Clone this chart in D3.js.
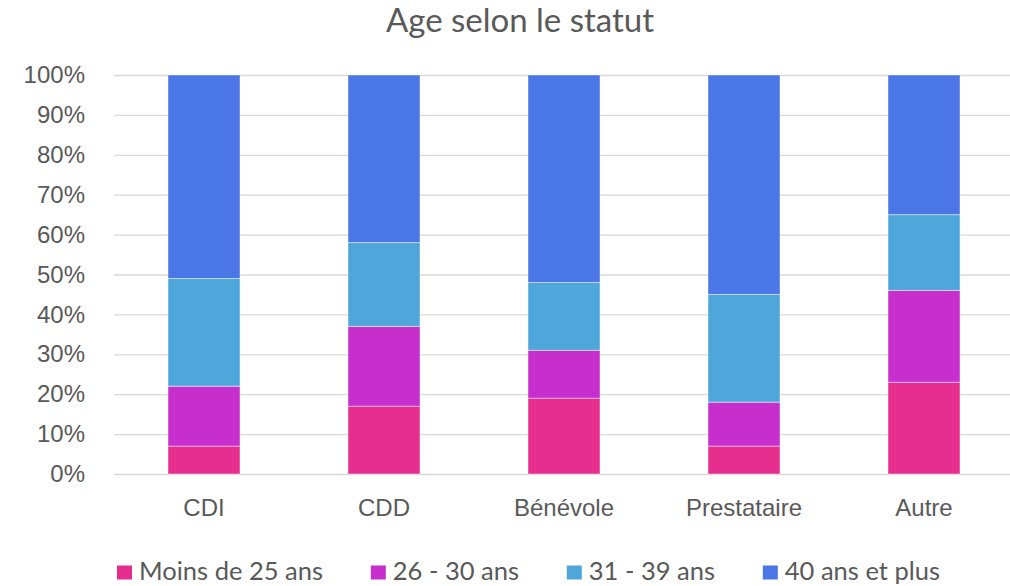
<!DOCTYPE html>
<html>
<head>
    <meta charset="utf-8">
    <style>
        body {
            margin: 0;
            background: #fff;
        }

        svg {
            display: block;
            font-family: Lato, 'Open Sans', sans-serif;
        }

        .title {
            font-size: 33px;
            fill: #595959;
        }

        .y .tick line {
            stroke: #d9d9d9;
            stroke-width: 1.3;
        }

        .y .tick text,
        .x .tick text {
            font-size: 24px;
            fill: #595959;
        }

        .domain {
            display: none;
        }

        .legend text {
            font-size: 25.5px;
            fill: #595959;
        }
    </style>
</head>
<body>
    <svg width="1010" height="586"></svg>

<script src="https://d3js.org/d3.v7.min.js"></script>
<script>
    // data (percentages)
    let categories = ["CDI", "CDD", "Bénévole", "Prestataire", "Autre"];
    let series = ["Moins de 25 ans", "26 - 30 ans", "31 - 39 ans", "40 ans et plus"];
    let moins25 = [7, 17, 19, 7, 23];
    let age26_30 = [15, 20, 12, 11, 23];
    let age31_39 = [27, 21, 17, 27, 19];
    let age40plus = [51, 42, 52, 55, 35];
    let yTicks = [0, 10, 20, 30, 40, 50, 60, 70, 80, 90, 100];
    let colors = ["#e52e8e", "#c62fcb", "#4fa6db", "#4a76e6"];

    let width = 1010;
    let height = 586;
    let margin = { top: 75, right: -4, bottom: 112, left: 114 };

    let svg = d3.select("svg");

    // table for d3.stack
    let table = categories.map(function (c, i) {
        let row = { cat: c };
        row[series[0]] = moins25[i];
        row[series[1]] = age26_30[i];
        row[series[2]] = age31_39[i];
        row[series[3]] = age40plus[i];
        return row;
    });
    let stacked = d3.stack().keys(series)(table);

    let xScale = d3.scaleBand()
        .domain(categories)
        .range([margin.left, width - margin.right])
        .paddingInner(0.6)
        .paddingOuter(0.3);

    let yScale = d3.scaleLinear()
        .domain([0, 100])
        .range([height - margin.bottom, margin.top]);

    let colorScale = d3.scaleOrdinal().domain(series).range(colors);

    svg.append("text")
        .attr("class", "title")
        .attr("x", 520)
        .attr("y", 32)
        .attr("text-anchor", "middle")
        .text("Age selon le statut");

    // y axis with gridlines
    svg.append("g")
        .attr("class", "y axis")
        .attr("transform", `translate(${margin.left},0)`)
        .call(d3.axisLeft(yScale)
            .tickValues(yTicks)
            .tickSize(-(width - margin.left - margin.right))
            .tickPadding(29)
            .tickFormat(function (d) { return d + "%"; }));

    // bars
    svg.append("g")
        .selectAll("g")
        .data(stacked)
        .join("g")
        .attr("fill", function (d) { return colorScale(d.key); })
        .selectAll("rect")
        .data(function (d) { return d; })
        .join("rect")
        .attr("x", function (d) { return xScale(d.data.cat); })
        .attr("y", function (d) { return yScale(d[1]); })
        .attr("width", xScale.bandwidth())
        .attr("height", function (d) { return yScale(d[0]) - yScale(d[1]); })
        .attr("stroke", "rgba(255,255,255,0.45)")
        .attr("stroke-width", 1);

    // x axis labels
    svg.append("g")
        .attr("class", "x axis")
        .attr("transform", `translate(0,${height - margin.bottom})`)
        .call(d3.axisBottom(xScale).tickSize(0).tickPadding(25));

    // legend, spread between the reference's left and right edges
    let legend = svg.append("g").attr("class", "legend");
    let items = legend.selectAll("g")
        .data(series)
        .join("g");
    items.append("rect")
        .attr("width", 15)
        .attr("height", 14)
        .attr("y", 565.5)
        .attr("fill", function (d) { return colorScale(d); });
    items.append("text")
        .attr("x", 22)
        .attr("y", 580)
        .text(function (d) { return d; });

    let widths = [];
    items.each(function () {
        widths.push(22 + this.querySelector("text").getComputedTextLength());
    });
    let legendLeft = 117, legendRight = 940;
    let gap = (legendRight - legendLeft - d3.sum(widths)) / (widths.length - 1);
    let offsets = [];
    let xpos = legendLeft;
    widths.forEach(function (w) { offsets.push(xpos); xpos += w + gap; });
    items.attr("transform", function (d, i) { return `translate(${offsets[i]},0)`; });
</script>
</body>
</html>
